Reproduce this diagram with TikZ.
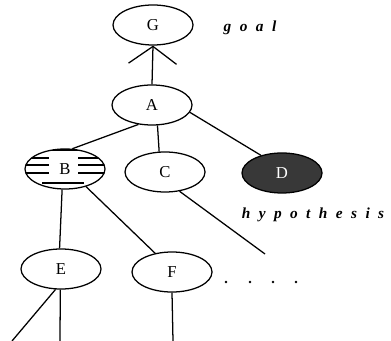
\documentclass[tikz,border=0pt]{standalone}
\usepackage{fontspec}
\setmainfont{Liberation Serif}
\usetikzlibrary{shapes.geometric,arrows.meta}
\begin{document}
\begin{tikzpicture}
  [x=0.75pt,y=-0.75pt,line width=0.95pt,
   oval/.style={ellipse,draw,minimum width=60pt,minimum height=30pt,inner sep=0pt,
     font=\fontsize{12.5}{14}\selectfont},
   tag/.style={font=\fontsize{11.5}{13}\selectfont\bfseries\itshape\addfontfeature{LetterSpace=55}}]
  \useasboundingbox (0,0) rectangle (391,341);
  \node[oval](g) at (153,25){G};
  \node[oval](a) at (152,105){A};
  \node[oval](b) at (65,169){B};
  \node[oval](c) at (165,172){C};
  \node[oval,fill=black!78,text=white](d) at (282,173){D};
  \node[oval](e) at (61,269){E};
  \node[oval](f) at (172,272){F};
  \node[tag](goal) at (250,28){goal};
  \node[tag](hyp) at (313,215){hypothesis};
  % stripes inside B
  \begin{scope}
    \clip (b.center) ellipse [x radius=30pt, y radius=15pt];
    \draw[line width=1.3pt] (20,150) -- (110,150);
    \foreach \y in {158,165,173}{
      \draw[line width=1.1pt] (20,\y) -- (49,\y);
      \draw[line width=1.1pt] (78,\y) -- (110,\y);
    }
    \draw[line width=1.1pt] (42,183) -- (84,183);
  \end{scope}
  % loose ends
  \coordinate (c1) at (265,254);
  \coordinate (e1) at (12,341);
  \coordinate (e2) at (60,341);
  \coordinate (f1) at (173,341);
  \draw[-{Straight Barb[length=13pt,width=36pt,line width=0.95pt]}] (a.north) -- (g.south);
  \draw (a.235) -- (b.70);
  \draw (a.285) -- (c.106);
  \draw (a.349) -- (d.140);
  \draw (b.262) -- (e.94);
  \draw (b.320) -- (f.132);
  \draw (c.307) -- (c1);
  \draw (e.255) -- (e1);
  \draw (e.268) -- (e2);
  \draw (f.south) -- (f1);
  \foreach \x in {226,250,273,296}
    \fill (\x,282) circle (1.1pt);
\end{tikzpicture}
\end{document}
